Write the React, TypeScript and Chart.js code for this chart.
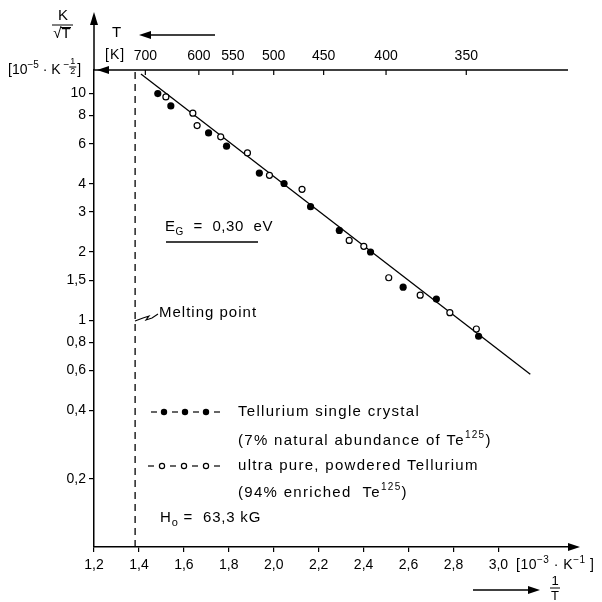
import React, { useEffect, useRef } from "react";
import { Chart, registerables } from "chart.js";
Chart.register(...registerables);

const xTicks = [1.2, 1.4, 1.6, 1.8, 2.0, 2.2, 2.4, 2.6, 2.8, 3.0];
const yTicks = [0.2, 0.4, 0.6, 0.8, 1, 1.5, 2, 3, 4, 6, 8, 10];
const tempTicks = [700, 600, 550, 500, 450, 400, 350];

const crystalX = [1.484, 1.542, 1.71, 1.79, 1.936, 2.046, 2.164, 2.292, 2.431, 2.576, 2.724, 2.912];
const crystalY = [10.0, 8.82, 6.7, 5.86, 4.46, 4.01, 3.17, 2.49, 2.0, 1.4, 1.24, 0.85];
const powderX = [1.52, 1.64, 1.659, 1.764, 1.883, 1.981, 2.126, 2.336, 2.401, 2.512, 2.652, 2.784, 2.902];
const powderY = [9.66, 8.19, 7.22, 6.44, 5.47, 4.36, 3.78, 2.25, 2.12, 1.54, 1.29, 1.08, 0.915];
const fitX = [1.409, 3.142];
const fitY = [12.2, 0.578];
const meltingX = [1.383, 1.383];
const meltingY = [0.1, 12.7];

const X_MIN = 1.2;
const X_MAX = 3.35;
const Y_MIN = 0.1;
const Y_MAX = 12.7;
const TOP_AXIS_END = 3.31;

const FONT = '"Liberation Sans", Arial, sans-serif';

type Seg = { t: string; size?: number; dy?: number };

function drawRich(ctx: CanvasRenderingContext2D, segs: Seg[], x: number, y: number, base: number, spacing: number) {
  let cx = x;
  for (const s of segs) {
    const size = s.size ?? base;
    ctx.font = `${size}px ${FONT}`;
    (ctx as any).letterSpacing = spacing + "px";
    ctx.fillText(s.t, cx, y + (s.dy ?? 0));
    cx += ctx.measureText(s.t).width;
  }
  (ctx as any).letterSpacing = "0px";
  return cx;
}

function line(ctx: CanvasRenderingContext2D, pts: number[][]) {
  ctx.beginPath();
  ctx.moveTo(pts[0][0], pts[0][1]);
  for (let i = 1; i < pts.length; i++) ctx.lineTo(pts[i][0], pts[i][1]);
  ctx.stroke();
}

function tri(ctx: CanvasRenderingContext2D, pts: number[][]) {
  ctx.beginPath();
  ctx.moveTo(pts[0][0], pts[0][1]);
  ctx.lineTo(pts[1][0], pts[1][1]);
  ctx.lineTo(pts[2][0], pts[2][1]);
  ctx.closePath();
  ctx.fill();
}

const decorPlugin = {
  id: "decor",
  afterDraw(chart: any) {
    const { ctx, chartArea: ca, scales } = chart;
    const x2 = scales.x2;
    ctx.save();
    ctx.fillStyle = "#000";
    ctx.strokeStyle = "#000";
    ctx.lineWidth = 1.5;
    ctx.textBaseline = "middle";
    ctx.textAlign = "left";
    const ax = ca.left;
    // y axis extension + arrow
    line(ctx, [[ax, ca.top], [ax, 22]]);
    tri(ctx, [[ax, 12], [ax - 4, 25], [ax + 4, 25]]);
    // x axis arrow
    tri(ctx, [[ca.right + 3, ca.bottom], [ca.right - 9, ca.bottom - 4], [ca.right - 9, ca.bottom + 4]]);
    // top axis line + arrow (left)
    line(ctx, [[ax, ca.top], [x2.getPixelForValue(TOP_AXIS_END), ca.top]]);
    tri(ctx, [[ax + 3, ca.top], [ax + 15, ca.top - 4], [ax + 15, ca.top + 4]]);
    // top axis ticks (inward)
    ctx.lineWidth = 1.2;
    for (const T of tempTicks) {
      const px = x2.getPixelForValue(1000 / T);
      line(ctx, [[px, ca.top], [px, ca.top + 5]]);
    }
    // T label and arrow
    ctx.font = `15px ${FONT}`;
    ctx.fillText("T", 112, 33);
    ctx.lineWidth = 1.3;
    line(ctx, [[148, 35], [215, 35]]);
    tri(ctx, [[139, 35], [151, 31], [151, 39]]);
    ctx.font = `14px ${FONT}`;
    (ctx as any).letterSpacing = "1px";
    ctx.fillText("[K]", 105, 55);
    (ctx as any).letterSpacing = "0px";

    // y title
    ctx.textAlign = "center";
    ctx.font = `15px ${FONT}`;
    ctx.fillText("K", 63, 16);
    ctx.lineWidth = 1;
    line(ctx, [[52, 25], [73, 25]]);
    ctx.fillText("\u221aT", 62, 34);
    line(ctx, [[61, 27.5], [71, 27.5]]);
    ctx.textAlign = "left";
    let cx = drawRich(ctx, [{ t: "[10" }, { t: "\u22125", size: 10, dy: -5 }, { t: " \u00b7 K" }, { t: " \u2212", size: 10, dy: -5 }], 8, 70, 14, 0);
    ctx.font = `9px ${FONT}`;
    ctx.fillText("1", cx + 1, 62);
    ctx.fillText("2", cx + 1, 72);
    line(ctx, [[cx, 67], [cx + 7, 67]]);
    ctx.font = `14px ${FONT}`;
    ctx.fillText("]", cx + 8, 70);

    // x unit + 1/T
    drawRich(ctx, [{ t: "[10" }, { t: "\u22123", size: 10, dy: -5 }, { t: " \u00b7 K" }, { t: "\u22121", size: 10, dy: -5 }, { t: " ]" }], 516, 565, 14, 0.5);
    ctx.textAlign = "center";
    ctx.font = `13px ${FONT}`;
    ctx.fillText("1", 555, 581);
    ctx.fillText("T", 555, 596);
    ctx.lineWidth = 1;
    line(ctx, [[550, 588], [560, 588]]);
    ctx.lineWidth = 1.3;
    line(ctx, [[473, 590], [530, 590]]);
    tri(ctx, [[540, 590], [528, 586], [528, 594]]);
    ctx.textAlign = "left";

    // E_G annotation
    drawRich(ctx, [{ t: "E" }, { t: "G", size: 10, dy: 5 }, { t: "  =  0,30  eV" }], 165, 227, 15, 0.6);
    ctx.lineWidth = 1.5;
    line(ctx, [[166, 242], [258, 242]]);

    // Melting point
    ctx.lineWidth = 1.1;
    line(ctx, [[135, 321], [143, 318], [149, 316], [146, 320], [152, 318], [158, 314]]);
    drawRich(ctx, [{ t: "Melting point" }], 159, 313, 15, 1);

    // legend symbols
    ctx.lineWidth = 1.2;
    const y1 = 412;
    for (const d of [151, 172, 193, 214]) line(ctx, [[d, y1], [d + 6, y1]]);
    for (const d of [164, 185, 206]) {
      ctx.beginPath();
      ctx.arc(d, y1, 3.2, 0, Math.PI * 2);
      ctx.fill();
    }
    const y3 = 466;
    for (const d of [148, 170, 192, 214]) line(ctx, [[d, y3], [d + 6, y3]]);
    for (const d of [162, 184, 206]) {
      ctx.beginPath();
      ctx.arc(d, y3, 2.6, 0, Math.PI * 2);
      ctx.fillStyle = "#fff";
      ctx.fill();
      ctx.stroke();
      ctx.fillStyle = "#000";
    }
    drawRich(ctx, [{ t: "Tellurium single crystal" }], 238, 412, 15, 1.3);
    drawRich(ctx, [{ t: "(7% natural abundance of Te" }, { t: "125", size: 10, dy: -6 }, { t: ")" }], 238, 441, 15, 1.3);
    drawRich(ctx, [{ t: "ultra pure, powdered Tellurium" }], 238, 466, 15, 1.3);
    drawRich(ctx, [{ t: "(94% enriched  Te" }, { t: "125", size: 10, dy: -6 }, { t: ")" }], 238, 493, 15, 1.3);
    drawRich(ctx, [{ t: "H" }, { t: "o", size: 11, dy: 5 }, { t: " =  63,3 kG" }], 160, 518, 15, 0.8);

    ctx.restore();
  },
};

export default function App() {
  const ref = useRef<HTMLCanvasElement | null>(null);
  useEffect(() => {
    if (!ref.current) return;
    Chart.defaults.font.family = FONT;
    Chart.defaults.color = "#000";
    const chart = new Chart(ref.current, {
      type: "scatter",
      data: {
        datasets: [
          {
            label: "Tellurium single crystal",
            data: crystalX.map((x, i) => ({ x, y: crystalY[i] })),
            pointRadius: 3.6,
            backgroundColor: "#000",
            borderColor: "#000",
            borderWidth: 0,
            showLine: false,
          },
          {
            label: "ultra pure, powdered Tellurium",
            data: powderX.map((x, i) => ({ x, y: powderY[i] })),
            pointRadius: 3,
            backgroundColor: "#fff",
            borderColor: "#000",
            borderWidth: 1.2,
            showLine: false,
          },
          {
            label: "fit",
            data: fitX.map((x, i) => ({ x, y: fitY[i] })),
            showLine: true,
            pointRadius: 0,
            borderColor: "#000",
            borderWidth: 1.3,
          },
          {
            label: "melting",
            data: meltingX.map((x, i) => ({ x, y: meltingY[i] })),
            showLine: true,
            pointRadius: 0,
            borderColor: "#000",
            borderWidth: 1.3,
            borderDash: [7, 5],
          },
        ],
      },
      options: {
        animation: false,
        responsive: false,
        maintainAspectRatio: false,
        devicePixelRatio: 1,
        layout: { padding: { left: 0, right: 25, top: 0, bottom: 0 } },
        plugins: { legend: { display: false }, tooltip: { enabled: false } },
        scales: {
          x: {
            type: "linear",
            position: "bottom",
            min: X_MIN,
            max: X_MAX,
            afterBuildTicks: (s: any) => {
              s.ticks = xTicks.map((v) => ({ value: v }));
            },
            afterFit: (s: any) => {
              s.height = 55;
            },
            ticks: {
              callback: (v: any) => Number(v).toFixed(1).replace(".", ","),
              color: "#000",
              font: { size: 14 },
              padding: 5,
              maxRotation: 0,
              autoSkip: false,
            },
            grid: { drawOnChartArea: false, tickLength: 5, color: "#000", lineWidth: 1.2 },
            border: { color: "#000", width: 1.5 },
          },
          x2: {
            type: "linear",
            position: "top",
            min: X_MIN,
            max: X_MAX,
            afterBuildTicks: (s: any) => {
              s.ticks = tempTicks.map((T) => ({ value: 1000 / T }));
            },
            afterFit: (s: any) => {
              s.height = 70;
            },
            ticks: {
              callback: (v: any) => String(Math.round(1000 / Number(v))),
              color: "#000",
              font: { size: 14 },
              padding: 5,
              maxRotation: 0,
              autoSkip: false,
            },
            grid: { drawOnChartArea: false, drawTicks: false },
            border: { display: false },
          },
          y: {
            type: "logarithmic",
            min: Y_MIN,
            max: Y_MAX,
            afterBuildTicks: (s: any) => {
              s.ticks = yTicks.map((v) => ({ value: v }));
            },
            afterFit: (s: any) => {
              s.width = 94;
            },
            ticks: {
              callback: (v: any) => String(v).replace(".", ","),
              color: "#000",
              font: { size: 14 },
              padding: 3,
              autoSkip: false,
            },
            grid: { drawOnChartArea: false, tickLength: 5, color: "#000", lineWidth: 1.2 },
            border: { color: "#000", width: 1.5 },
          },
        },
      } as any,
      plugins: [decorPlugin],
    });
    return () => chart.destroy();
  }, []);
  return (
    <div style={{ position: "fixed", left: 0, top: 0, width: 602, height: 602, background: "#fff" }}>
      <canvas ref={ref} width={602} height={602} style={{ display: "block", width: 602, height: 602 }} />
    </div>
  );
}
